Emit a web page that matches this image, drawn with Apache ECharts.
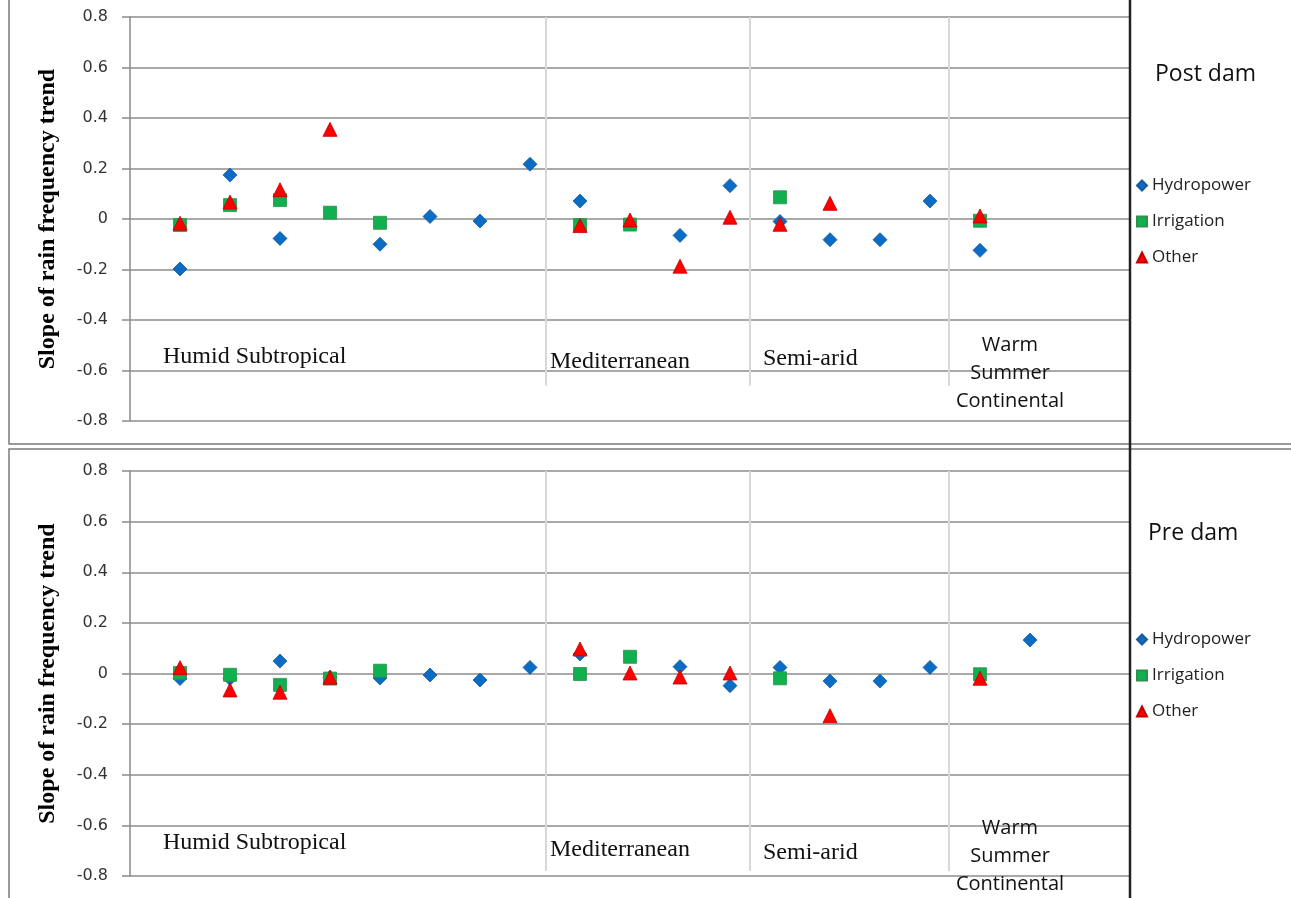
<!DOCTYPE html>
<html>
<head>
<meta charset="utf-8">
<script src="https://cdn.jsdelivr.net/npm/echarts@6/dist/echarts.min.js"></script>
<style>
html,body{margin:0;padding:0;background:#fff;}
#chart{width:1291px;height:898px;}
</style>
</head>
<body>
<div id="chart"></div>
<script>
// Station index along the x axis
const stations = [1,2,3,4,5,6,7,8,9,10,11,12,13,14,15,16,17,18];
const seriesNames = ['Hydropower','Irrigation','Other'];
const yTicks = [-0.8,-0.6,-0.4,-0.2,0,0.2,0.4,0.6,0.8];

// Post dam slopes
const hydroPost = [-0.198,0.174,-0.077,null,-0.10,0.01,-0.008,0.217,0.071,null,-0.065,0.132,-0.01,-0.082,-0.082,0.071,-0.124,null];
const irrigPost = [-0.024,0.055,0.075,0.025,-0.015,null,null,null,-0.024,-0.022,null,null,0.086,null,null,null,-0.007,null];
const otherPost = [-0.017,0.067,0.116,0.355,null,null,null,null,-0.026,-0.004,-0.187,0.007,-0.021,0.062,null,null,0.012,null];

// Pre dam slopes
const hydroPre = [-0.02,-0.02,0.049,-0.015,-0.018,-0.006,-0.026,0.024,0.077,null,0.027,-0.048,0.024,-0.03,-0.03,0.024,null,0.132];
const irrigPre = [0.002,-0.005,-0.045,-0.02,0.011,null,null,null,-0.002,0.066,null,null,-0.019,null,null,null,-0.003,null];
const otherPre = [0.023,-0.065,-0.074,-0.015,null,null,null,null,0.097,0.002,-0.014,0.002,null,-0.167,null,null,-0.019,null];

// Climate-zone separators (x position in station units)
const separators = [8.32, 12.4, 16.38];
const regionNames = ['Humid Subtropical','Mediterranean','Semi-arid'];
const warmLines = ['Warm','Summer','Continental'];
const panelTitles = ['Post dam','Pre dam'];

function pts(arr){
  const out=[];
  arr.forEach((v,i)=>{ if(v!==null) out.push([stations[i], v]); });
  return out;
}

const styles = {
  Hydropower:{symbol:'diamond', size:[14,14], color:'#0a6cc4', border:'#1b5a9a'},
  Irrigation:{symbol:'rect', size:[13,13], color:'#11b04f', border:'#2f8f4f'},
  Other:{symbol:'triangle', size:[14,14], color:'#ff0000', border:'#c00000'}
};

function sepLine(top, bottom){
  return {
    silent:true, symbol:['none','none'], label:{show:false},
    lineStyle:{color:'#d8d8d8', width:2, type:'solid'},
    data: separators.map(x=>[{coord:[x,top]},{coord:[x,bottom]}])
  };
}

function makeSeries(gridIdx, arrs, sepBottom){
  return seriesNames.map((n,k)=>{
    const s = styles[n];
    const obj = {
      name:n, type:'scatter', xAxisIndex:gridIdx, yAxisIndex:gridIdx,
      symbol:s.symbol, symbolSize:s.size,
      itemStyle:{color:s.color, borderColor:s.border, borderWidth:0.8, opacity:1},
      emphasis:{disabled:true},
      data:pts(arrs[k]), z:3+k
    };
    if(k===0) obj.markLine = sepLine(0.8, sepBottom);
    return obj;
  });
}

function yAxis(gridIdx){
  return {
    type:'value', gridIndex:gridIdx, min:yTicks[0], max:yTicks[yTicks.length-1], interval:0.2,
    axisLine:{show:true, lineStyle:{color:'#8a8a8a', width:1.5}},
    axisTick:{show:true, length:8, lineStyle:{color:'#8a8a8a', width:1.5}},
    splitLine:{show:true, lineStyle:{color:'#8c8c8c', width:1.5}},
    axisLabel:{fontFamily:'DejaVu Sans', fontSize:16, color:'#333', margin:22},
    name:'Slope of rain frequency trend', nameLocation:'middle', nameGap:70,
    nameTextStyle:{fontFamily:'Liberation Serif', fontWeight:'bold', fontSize:24, color:'#000'}
  };
}

function xAxis(gridIdx){
  return {type:'value', gridIndex:gridIdx, min:0, max:20, show:false};
}

function legend(top){
  return {
    data:seriesNames, orient:'vertical', left:1136, top:top, padding:0,
    itemWidth:10, itemHeight:10, itemGap:19, selectedMode:false,
    textStyle:{fontFamily:'Open Sans', fontSize:17, color:'#222'}
  };
}

function txt(x, y, text, font, align){
  return {type:'text', x:x, y:y, silent:true, z:5,
    style:{text:text, font:font, fill:'#111', align:align||'left', verticalAlign:'middle'}};
}

function regionTexts(ys, warmYs){
  const xs=[163,550,763];
  const arr = xs.map((x,i)=>txt(x, ys[i], regionNames[i], '24px "Liberation Serif"'));
  warmLines.forEach((w,i)=>arr.push(txt(1010, warmYs[i], w, '20px "Open Sans"', 'center')));
  return arr;
}

const chart = echarts.init(document.getElementById('chart'), null, {renderer:'canvas'});
const option = {
  backgroundColor:'#ffffff',
  animation:false,
  grid:[
    {left:130, top:17, width:1000, height:404},
    {left:130, top:471, width:1000, height:405}
  ],
  xAxis:[xAxis(0), xAxis(1)],
  yAxis:[yAxis(0), yAxis(1)],
  legend:[legend(177), legend(631)],
  series:[].concat(
    makeSeries(0,[hydroPost,irrigPost,otherPost], -0.66),
    makeSeries(1,[hydroPre,irrigPre,otherPre], -0.78)
  ),
  graphic:[
    {type:'rect', shape:{x:9,y:-4,width:1300,height:448}, style:{fill:'none', stroke:'#7a7a7a', lineWidth:1.5}, silent:true},
    {type:'rect', shape:{x:9,y:449,width:1300,height:460}, style:{fill:'none', stroke:'#7a7a7a', lineWidth:1.5}, silent:true},
    {type:'line', shape:{x1:1130,y1:0,x2:1130,y2:898}, style:{stroke:'#222', lineWidth:2.5}, silent:true, z:10},
    txt(1155, 74, panelTitles[0], '23px "Open Sans"'),
    txt(1148, 533, panelTitles[1], '23px "Open Sans"')
  ].concat(regionTexts([357,362,359],[345,373,401])).concat(regionTexts([843,850,853],[828,856,884]))
};
chart.setOption(option);
</script>
</body>
</html>
